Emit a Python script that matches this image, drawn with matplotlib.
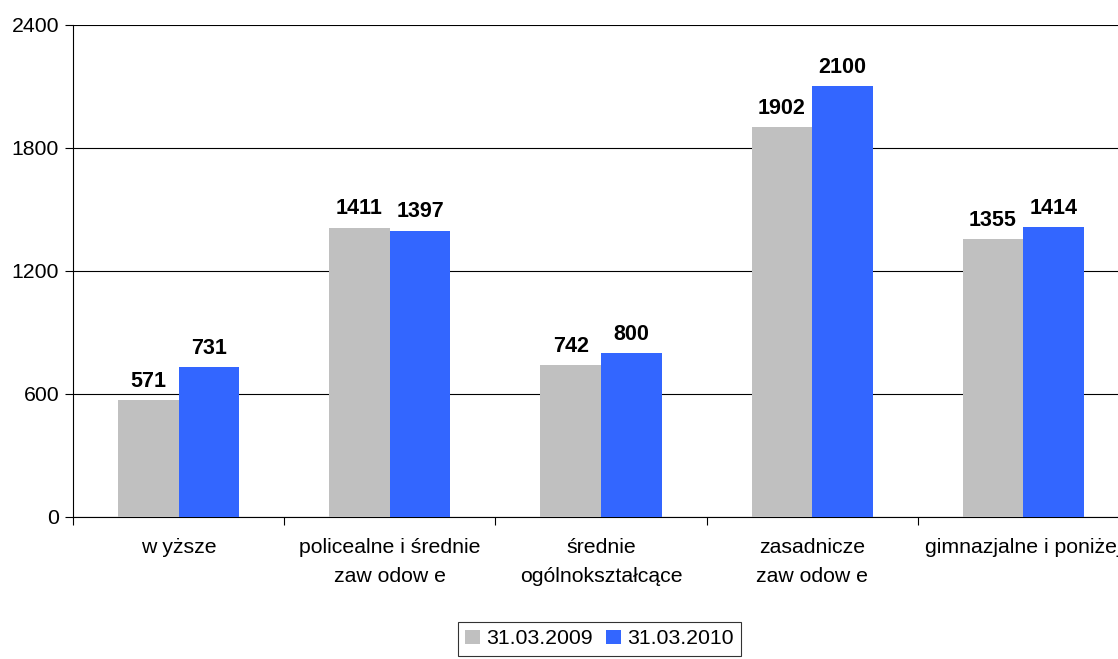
import numpy as np
import matplotlib
matplotlib.use('Agg')
import matplotlib.pyplot as plt

plt.rcParams['font.family'] = ['Liberation Sans', 'DejaVu Sans']

categories = ['w yższe', 'policealne i średnie\nzaw odow e', 'średnie\nogólnokształcące',
              'zasadnicze\nzaw odow e', 'gimnazjalne i poniżej']
values_2009 = [571, 1411, 742, 1902, 1355]
values_2010 = [731, 1397, 800, 2100, 1414]
series_names = ['31.03.2009', '31.03.2010']
yticks = [0, 600, 1200, 1800, 2400]

fs = 15.3

fig = plt.figure(figsize=(11.18, 6.59), dpi=100)
ax = fig.add_axes([0.0653, 0.2155, 0.9445, 0.7466])

x = np.arange(len(categories))
w = 0.287
b1 = ax.bar(x - w / 2, values_2009, w, color='#C0C0C0', label=series_names[0], zorder=3)
b2 = ax.bar(x + w / 2, values_2010, w, color='#3366FF', label=series_names[1], zorder=3)

for bars, vals in [(b1, values_2009), (b2, values_2010)]:
    for rect, v in zip(bars, vals):
        ax.annotate(str(v), (rect.get_x() + rect.get_width() / 2, v),
                    xytext=(0, 6), textcoords='offset points',
                    ha='center', va='bottom', fontsize=15.5, fontweight='bold')

ax.set_xlim(-0.5, len(categories) - 0.5)
ax.set_ylim(0, 2400)
ax.set_yticks(yticks)
ax.tick_params(axis='y', labelsize=fs, length=6, width=0.8, pad=4)
ax.yaxis.grid(True, color='black', linewidth=0.8, zorder=0)

ax.set_xticks(x)
ax.set_xticklabels(categories, fontsize=fs, linespacing=1.65)
ax.tick_params(axis='x', which='major', length=0, pad=15)
ax.set_xticks(np.arange(len(categories) + 1) - 0.5, minor=True)
ax.tick_params(axis='x', which='minor', length=6, width=0.8)

for s in ['top', 'right']:
    ax.spines[s].set_visible(False)
ax.spines['left'].set_color('black')
ax.spines['bottom'].set_color('black')

leg = fig.legend(loc='upper center', bbox_to_anchor=(0.536, 0.0562), ncol=2,
                 fontsize=fs, frameon=True, fancybox=False, handlelength=0.7,
                 handleheight=0.7, handletextpad=0.3, columnspacing=0.6,
                 borderpad=0.35, borderaxespad=0)
leg.get_frame().set_edgecolor('black')
leg.get_frame().set_linewidth(0.8)

fig.savefig('out.png', dpi=100)
